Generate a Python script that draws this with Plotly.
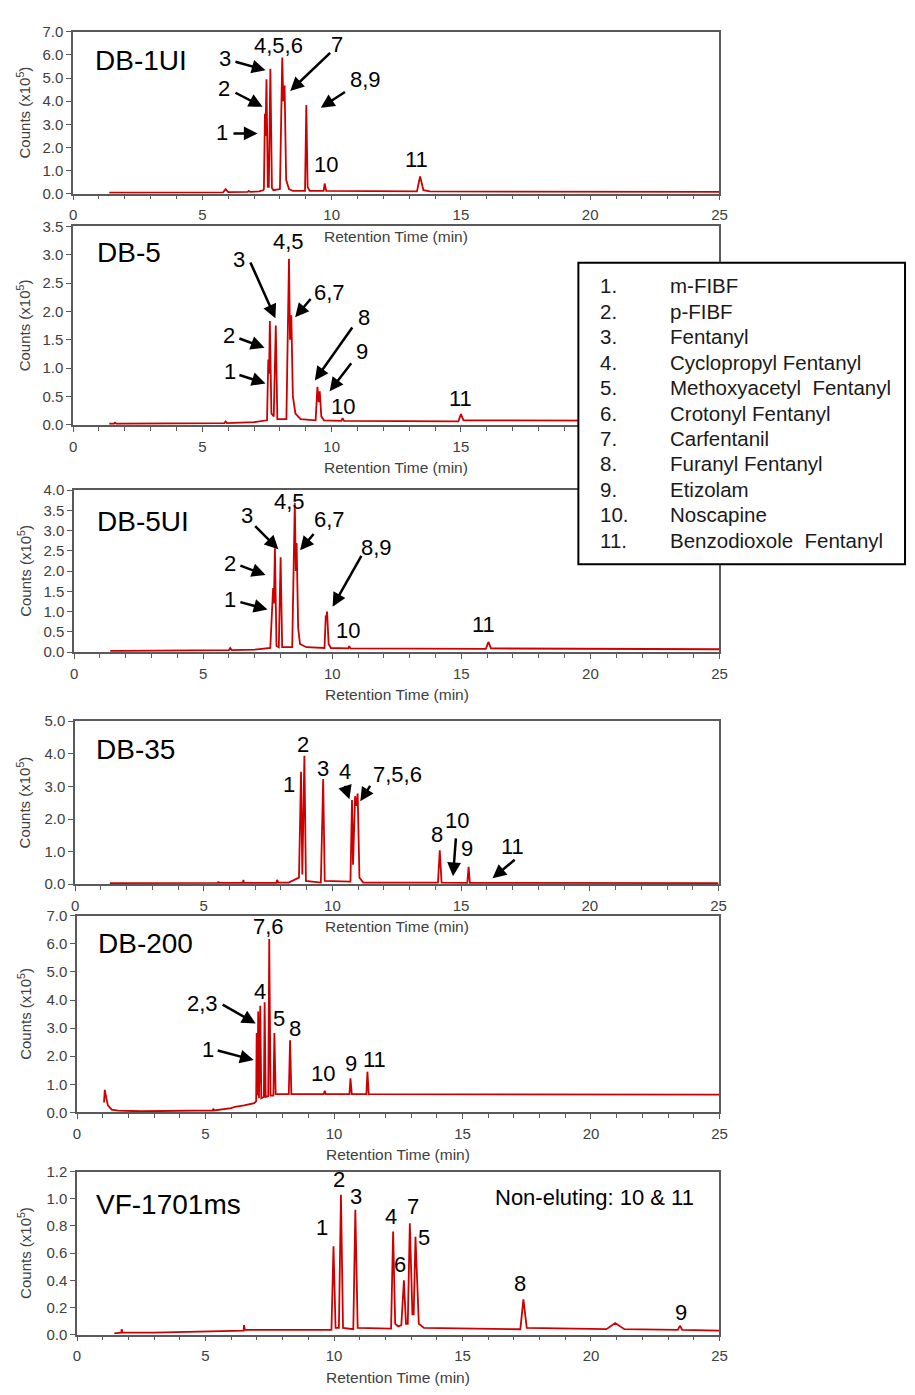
import plotly.graph_objects as go

W, H = 915, 1395
FONT = "Arial, Liberation Sans, sans-serif"
RED = "#cc0000"
AXC = "#5a5a5a"
TXT = "#404040"

# ---------------- data (retention time in min, counts in x10^5) ----------------
db1ui_t = [1.4, 5.8, 5.9, 6.0, 6.75, 6.8, 6.85, 7.2, 7.35, 7.38, 7.42, 7.44, 7.48, 7.53, 7.57, 7.63, 7.69, 7.75,
           8.0, 8.05, 8.09, 8.13, 8.18, 8.24, 8.35, 8.5, 8.97, 9.02, 9.07, 9.15, 9.69, 9.73, 9.79, 13.3, 13.42,
           13.55, 13.8, 25.0]
db1ui_y = [0.05, 0.06, 0.2, 0.07, 0.08, 0.12, 0.08, 0.1, 0.15, 0.2, 3.45, 2.5, 4.95, 0.3, 0.3, 5.4, 0.25, 0.15,
           0.2, 3.5, 5.88, 4.0, 4.68, 0.6, 0.2, 0.12, 0.12, 3.83, 0.3, 0.12, 0.12, 0.44, 0.12, 0.1, 0.75,
           0.15, 0.1, 0.08]

db5_t = [1.4, 1.58, 1.62, 1.68, 5.85, 5.9, 5.95, 7.0, 7.5, 7.55, 7.58, 7.61, 7.67, 7.76, 7.84, 7.9, 8.25, 8.35,
         8.39, 8.44, 8.5, 8.6, 8.8, 9.38, 9.45, 9.5, 9.54, 9.6, 9.7, 10.38, 10.42, 10.48, 14.9, 15.0, 15.1, 25.0]
db5_y = [0.02, 0.02, 0.04, 0.02, 0.03, 0.06, 0.03, 0.05, 0.08, 1.15, 0.9, 1.83, 0.2, 0.15, 1.75, 0.1, 0.1, 2.93,
         1.5, 1.93, 0.5, 0.2, 0.1, 0.08, 0.67, 0.4, 0.59, 0.15, 0.08, 0.07, 0.12, 0.07, 0.06, 0.19, 0.08, 0.07]

db5ui_t = [1.4, 1.8, 6.0, 6.05, 6.1, 7.0, 7.6, 7.71, 7.74, 7.78, 7.84, 7.93, 8.0, 8.06, 8.45, 8.55, 8.59, 8.62,
           8.68, 8.75, 9.0, 9.7, 9.75, 9.77, 9.8, 9.86, 9.95, 10.62, 10.66, 10.7, 15.95, 16.05, 16.15, 25.0]
db5ui_y = [0.03, 0.03, 0.05, 0.1, 0.05, 0.06, 0.1, 1.58, 1.2, 2.56, 0.15, 0.12, 2.34, 0.12, 0.12, 3.68, 2.0, 2.69,
           0.6, 0.2, 0.12, 0.1, 0.9, 0.85, 1.0, 0.2, 0.1, 0.09, 0.15, 0.09, 0.08, 0.25, 0.09, 0.07]

db35_t = [1.35, 4.0, 5.55, 5.57, 5.6, 6.52, 6.54, 6.56, 7.83, 7.85, 7.9, 8.3, 8.55, 8.7, 8.78, 8.83, 8.91, 8.97,
          9.55, 9.64, 9.7, 10.7, 10.76, 10.8, 10.88, 10.93, 10.98, 11.05, 11.2, 14.1, 14.17, 14.24, 15.24,
          15.29, 15.34, 25.0]
db35_y = [0.03, 0.03, 0.04, 0.08, 0.04, 0.04, 0.13, 0.04, 0.04, 0.13, 0.05, 0.05, 0.15, 0.2, 3.45, 0.3, 3.94, 0.1,
          0.05, 3.23, 0.1, 0.08, 2.58, 0.6, 2.7, 2.4, 2.78, 0.2, 0.05, 0.05, 1.04, 0.05, 0.04,
          0.53, 0.04, 0.03]

db200_t = [1.05, 1.08, 1.12, 1.2, 1.35, 1.6, 2.5, 5.0, 5.28, 5.3, 5.33, 6.0, 6.15, 6.5, 6.9, 6.97, 6.99, 7.02,
           7.05, 7.08, 7.13, 7.17, 7.27, 7.3, 7.34, 7.44, 7.48, 7.53, 7.64, 7.68, 7.73, 8.24, 8.29, 8.34, 9.6,
           9.64, 9.68, 10.6, 10.64, 10.69, 11.26, 11.3, 11.35, 25.0]
db200_y = [0.35, 0.8, 0.6, 0.25, 0.1, 0.06, 0.04, 0.05, 0.07, 0.13, 0.07, 0.15, 0.2, 0.25, 0.33, 0.4, 2.83, 0.6,
           3.59, 0.5, 3.8, 0.5, 0.55, 3.92, 0.55, 0.58, 6.17, 0.6, 0.6, 2.83, 0.65, 0.65, 2.57, 0.65, 0.65,
           0.77, 0.65, 0.65, 1.21, 0.65, 0.65, 1.45, 0.65, 0.63]

vf1701_t = [1.45, 1.72, 1.74, 1.77, 3.0, 5.0, 6.48, 6.5, 6.53, 9.9, 9.98, 10.06, 10.19, 10.27, 10.35, 10.75, 10.83,
            10.92, 12.22, 12.3, 12.38, 12.5, 12.62, 12.72, 12.8, 12.87, 12.95, 13.05, 13.1, 13.17, 13.3, 13.5,
            17.25, 17.37, 17.5, 20.6, 20.94, 21.3, 23.38, 23.46, 23.55, 25.0]
vf1701_y = [0.01, 0.015, 0.04, 0.015, 0.015, 0.025, 0.03, 0.07, 0.035, 0.035, 0.65, 0.05, 0.05, 1.03, 0.05, 0.04,
            0.92, 0.05, 0.045, 0.76, 0.08, 0.06, 0.07, 0.40, 0.08, 0.08, 0.82, 0.15, 0.15, 0.72, 0.08, 0.05,
            0.04, 0.26, 0.05, 0.04, 0.085, 0.04, 0.035, 0.065, 0.035, 0.03]

column_names = ["DB-1UI", "DB-5", "DB-5UI", "DB-35", "DB-200", "VF-1701ms"]
y_max = [7.0, 3.5, 4.0, 5.0, 7.0, 1.2]
y_dtick = [1.0, 0.5, 0.5, 1.0, 1.0, 0.2]
x_max = 25
x_ticks_full = [0, 5, 10, 15, 20, 25]
x_ticks_db5 = [0, 5, 10, 15]  # 20 and 25 sit under the compound key box

compound_numbers = ["1.", "2.", "3.", "4.", "5.", "6.", "7.", "8.", "9.", "10.", "11."]
compound_names = ["m-FIBF", "p-FIBF", "Fentanyl", "Cyclopropyl Fentanyl", "Methoxyacetyl\u00a0 Fentanyl",
                  "Crotonyl Fentanyl", "Carfentanil", "Furanyl Fentanyl", "Etizolam", "Noscapine",
                  "Benzodioxole\u00a0 Fentanyl"]

series = [(db1ui_t, db1ui_y), (db5_t, db5_y), (db5ui_t, db5ui_y),
          (db35_t, db35_y), (db200_t, db200_y), (vf1701_t, vf1701_y)]
x_tickvals = [x_ticks_full, x_ticks_db5, x_ticks_full, x_ticks_full, x_ticks_full, x_ticks_full]

# ---------------- layout geometry (pixels) ----------------
boxes = [(70, 725, 23, 187), (70, 725, 220, 421), (71, 725, 487, 651),
         (72, 724, 721, 886), (74, 725, 918, 1117), (74, 725, 1177, 1342)]
label_pos = [(90, 52), (92, 247), (92, 519), (91, 750), (93, 946), (91, 1210)]

peak_texts = [
    [("3", 224, 50), ("4,5,6", 278, 37), ("7", 337, 36), ("2", 223, 80), ("8,9", 366, 71),
     ("1", 221, 125), ("10", 326, 157), ("11", 418, 152)],
    [("3", 238, 254), ("4,5", 288, 235), ("6,7", 330, 287), ("2", 228, 331), ("8", 365, 312),
     ("1", 229, 367), ("9", 363, 347), ("10", 343, 402), ("11", 463, 394)],
    [("3", 246, 513), ("4,5", 289, 499), ("6,7", 330, 517), ("2", 229, 561), ("8,9", 377, 545),
     ("1", 229, 598), ("10", 349, 629), ("11", 486, 623)],
    [("2", 303, 745), ("1", 289, 785), ("3", 323, 769), ("4", 346, 772), ("7,5,6", 399, 775),
     ("8", 439, 836), ("10", 459, 822), ("9", 469, 850), ("11", 515, 848)],
    [("7,6", 268, 929), ("4", 259, 995), ("2,3", 201, 1007), ("5", 279, 1022), ("8", 295, 1032),
     ("1", 207, 1053), ("10", 323, 1078), ("9", 352, 1068), ("11", 375, 1063)],
    [("2", 339, 1185), ("3", 357, 1202), ("1", 322, 1234), ("4", 392, 1222), ("7", 414, 1212),
     ("5", 426, 1244), ("6", 401, 1271), ("8", 523, 1290), ("9", 686, 1320)],
]
peak_arrows = [
    [(233, 53, 265, 62), (332, 43, 290, 83), (233, 84, 262, 99), (347, 83, 321, 100), (231, 126, 257, 126)],
    [(249, 255, 275, 313), (312, 292, 295, 312), (237, 333, 264, 343), (354, 321, 315, 376),
     (237, 370, 265, 379), (353, 357, 330, 387)],
    [(253, 522, 278, 547), (315, 530, 300, 548), (238, 563, 265, 573), (363, 552, 333, 605),
     (238, 600, 267, 608)],
    [(345, 785, 350, 800), (372, 785, 361, 802), (458, 838, 455, 878), (519, 860, 495, 880)],
    [(220, 1007, 255, 1027), (215, 1054, 253, 1064)],
    [],
]


def aid(i):
    return "" if i == 0 else str(i + 1)


def to_data(i, px, py):
    L, R, T, B = boxes[i]
    return (px - L) / (R - L) * x_max, (B - py) / (B - T) * y_max[i]


fig = go.Figure()
layout = dict(width=W, height=H, autosize=False, margin=dict(l=0, r=0, t=0, b=0),
              paper_bgcolor="white", plot_bgcolor="white", showlegend=False,
              font=dict(family=FONT, color=TXT))
annotations = []
shapes = []

for i, (t, y) in enumerate(series):
    n = aid(i)
    fig.add_trace(go.Scatter(x=t, y=y, mode="lines", line=dict(color=RED, width=1.8),
                             xaxis="x" + n, yaxis="y" + n, hoverinfo="skip"))
    L, R, T, B = boxes[i]
    layout["xaxis" + n] = dict(domain=[L / W, R / W], anchor="y" + n, range=[0, x_max],
                               tickmode="array", tickvals=x_tickvals[i],
                               ticks="outside", ticklen=5, tickwidth=1.2,
                               tickcolor=AXC, showline=True, linecolor=AXC, linewidth=1.5,
                               mirror=True, showgrid=False, zeroline=False, ticklabelstandoff=2,
                               minor=dict(tickmode="linear", tick0=0, dtick=1, ticks="outside",
                                          ticklen=4, tickcolor=AXC, tickwidth=1.2, showgrid=False),
                               tickfont=dict(size=15, color=TXT, family=FONT))
    layout["yaxis" + n] = dict(domain=[1 - B / H, 1 - T / H], anchor="x" + n, range=[0, y_max[i]],
                               tick0=0, dtick=y_dtick[i], tickformat=".1f", ticks="outside",
                               ticklen=5, tickwidth=1.2, tickcolor=AXC, showline=True,
                               linecolor=AXC, linewidth=1.5, mirror=True, showgrid=False,
                               zeroline=False, tickfont=dict(size=15, color=TXT, family=FONT))
    # axis titles
    annotations.append(dict(text="Retention Time (min)", xref="x" + n + " domain", x=0.5,
                            yref="paper", y=1 - (B + 43) / H, showarrow=False,
                            xanchor="center", yanchor="middle",
                            font=dict(size=15.5, color=TXT, family=FONT)))
    annotations.append(dict(text="Counts (x10<sup>5</sup>)", xref="paper", x=20 / W,
                            yref="y" + n + " domain", y=0.5, textangle=-90, showarrow=False,
                            xanchor="center", yanchor="middle",
                            font=dict(size=15, color=TXT, family=FONT)))
    # column label
    lx, ly = label_pos[i]
    annotations.append(dict(text=column_names[i], xref="paper", yref="paper", x=lx / W, y=1 - ly / H,
                            xanchor="left", yanchor="middle", showarrow=False,
                            font=dict(size=28, color="black", family=FONT)))
    for txt, px, py in peak_texts[i]:
        dx, dy = to_data(i, px, py)
        annotations.append(dict(text=txt, x=dx, y=dy, xref="x" + n, yref="y" + n, showarrow=False,
                                xanchor="center", yanchor="middle",
                                font=dict(size=22, color="black", family=FONT)))
    for tx, ty, hx, hy in peak_arrows[i]:
        hdx, hdy = to_data(i, hx, hy)
        tdx, tdy = to_data(i, tx, ty)
        annotations.append(dict(text="", x=hdx, y=hdy, ax=tdx, ay=tdy, xref="x" + n, yref="y" + n,
                                axref="x" + n, ayref="y" + n, showarrow=True, arrowhead=2,
                                arrowsize=1.1, arrowwidth=2.5, arrowcolor="black", standoff=0,
                                startstandoff=0))

# note in last panel
annotations.append(dict(text="Non-eluting: 10 & 11", xref="paper", yref="paper", x=598 / W,
                        y=1 - 1203 / H, xanchor="center", yanchor="middle", showarrow=False,
                        font=dict(size=22, color="black", family=FONT)))

# compound key box
shapes.append(dict(type="rect", xref="paper", yref="paper", x0=582 / W, x1=913 / W,
                   y0=1 - 562 / H, y1=1 - 257 / H, line=dict(color="black", width=2),
                   fillcolor="white", layer="above"))
for k, (num, name) in enumerate(zip(compound_numbers, compound_names)):
    yy = 1 - (280 + 25.8 * k) / H
    annotations.append(dict(text=num, xref="paper", yref="paper", x=602 / W, y=yy, xanchor="left",
                            yanchor="middle", showarrow=False,
                            font=dict(size=20.5, color="#1a1a1a", family=FONT)))
    annotations.append(dict(text=name, xref="paper", yref="paper", x=673 / W, y=yy, xanchor="left",
                            yanchor="middle", showarrow=False,
                            font=dict(size=20.5, color="#1a1a1a", family=FONT)))

layout["annotations"] = annotations
layout["shapes"] = shapes
fig.update_layout(**layout)
fig.write_html("out.html")
